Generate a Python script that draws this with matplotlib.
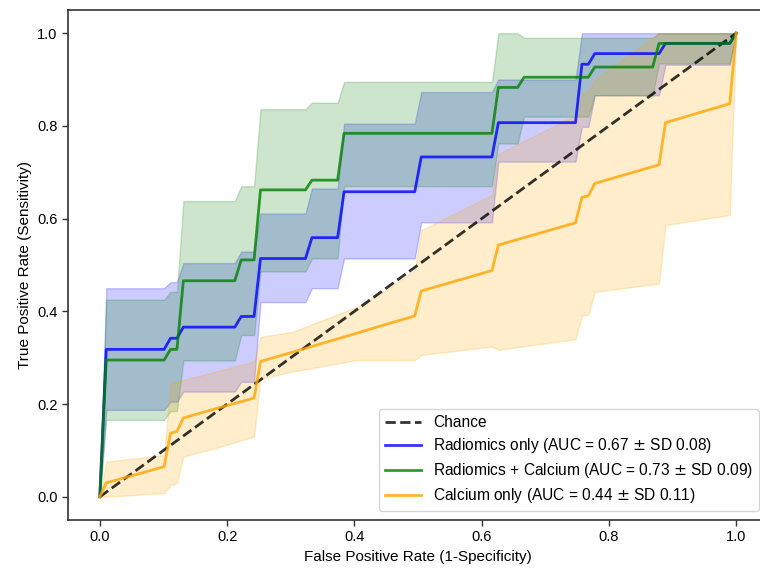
import numpy as np
import matplotlib
matplotlib.use("Agg")
import matplotlib.pyplot as plt

plt.rcParams['font.family'] = ['Liberation Sans', 'DejaVu Sans']

# Shared FPR grid for the step-like ROC curves
fpr_steps = [0.0, 0.0101, 0.1010, 0.1111, 0.1212, 0.1313, 0.2121, 0.2222, 0.2424,
             0.2525, 0.3232, 0.3333, 0.3737, 0.3838, 0.4949, 0.5051, 0.6162, 0.6263,
             0.6566, 0.6667, 0.7475, 0.7576, 0.7677, 0.7778, 0.8687, 0.8788, 0.8889,
             0.9899, 1.0]

# Radiomics only
rad_mean = [0.0, 0.318, 0.318, 0.342, 0.342, 0.366, 0.366, 0.389, 0.389,
            0.514, 0.514, 0.559, 0.559, 0.658, 0.658, 0.733, 0.733, 0.807,
            0.807, 0.807, 0.807, 0.933, 0.933, 0.956, 0.956, 0.956, 0.978,
            0.978, 1.0]
rad_upper = [0.0, 0.45, 0.45, 0.463, 0.463, 0.504, 0.504, 0.529, 0.529,
             0.611, 0.611, 0.665, 0.665, 0.805, 0.805, 0.873, 0.873, 0.90,
             0.90, 0.90, 0.90, 1.0, 1.0, 1.0, 1.0, 1.0, 1.0,
             1.0, 1.0]
rad_lower = [0.0, 0.1875, 0.1875, 0.205, 0.205, 0.227, 0.227, 0.248, 0.248,
             0.42, 0.42, 0.45, 0.45, 0.514, 0.514, 0.592, 0.592, 0.723,
             0.723, 0.723, 0.723, 0.798, 0.798, 0.866, 0.866, 0.866, 0.932,
             0.932, 1.0]

# Radiomics + Calcium
comb_mean = [0.0, 0.295, 0.295, 0.318, 0.318, 0.466, 0.466, 0.511, 0.511,
             0.662, 0.662, 0.683, 0.683, 0.784, 0.784, 0.784, 0.784, 0.883,
             0.883, 0.905, 0.905, 0.905, 0.905, 0.927, 0.927, 0.978, 0.978,
             0.978, 1.0]
comb_upper = [0.0, 0.425, 0.425, 0.442, 0.442, 0.638, 0.638, 0.67, 0.67,
              0.836, 0.836, 0.85, 0.85, 0.895, 0.895, 0.895, 0.895, 1.0,
              1.0, 0.99, 0.99, 0.99, 0.99, 0.99, 0.99, 1.0, 1.0,
              1.0, 1.0]
comb_lower = [0.0, 0.166, 0.166, 0.185, 0.185, 0.294, 0.294, 0.349, 0.349,
              0.486, 0.486, 0.514, 0.514, 0.67, 0.67, 0.67, 0.67, 0.762,
              0.762, 0.82, 0.82, 0.82, 0.82, 0.866, 0.866, 0.935, 0.935,
              0.935, 1.0]

# Calcium only
fpr_calcium = [0.0, 0.0101, 0.1010, 0.1111, 0.1212, 0.1313, 0.1818, 0.2424, 0.2525,
               0.3030, 0.4040, 0.4545, 0.4949, 0.5051, 0.6162, 0.6263, 0.7475,
               0.7576, 0.7677, 0.7778, 0.8788, 0.8889, 0.9899, 1.0]
cal_mean = [0.0, 0.03, 0.065, 0.137, 0.141, 0.17, 0.19, 0.213, 0.292,
            0.312, 0.353, 0.374, 0.39, 0.444, 0.488, 0.543, 0.591,
            0.646, 0.649, 0.676, 0.716, 0.807, 0.848, 1.0]
cal_upper = [0.0, 0.076, 0.09, 0.245, 0.248, 0.252, 0.27, 0.292, 0.345,
             0.356, 0.41, 0.45, 0.489, 0.575, 0.651, 0.74, 0.823,
             0.87, 0.875, 0.90, 1.0, 1.0, 1.0, 1.0]
cal_lower = [0.0, 0.0, 0.008, 0.025, 0.03, 0.087, 0.105, 0.13, 0.255,
             0.27, 0.295, 0.295, 0.295, 0.306, 0.324, 0.317, 0.34,
             0.392, 0.392, 0.442, 0.46, 0.586, 0.608, 1.0]

labels = ["Chance",
          "Radiomics only (AUC = 0.67 $\\pm$ SD 0.08)",
          "Radiomics + Calcium (AUC = 0.73 $\\pm$ SD 0.09)",
          "Calcium only (AUC = 0.44 $\\pm$ SD 0.11)"]

fig = plt.figure(figsize=(7.6, 5.68), dpi=100)
ax = fig.add_axes([68/760, 48/568, 700/760, 510/568])

ax.plot([0, 1], [0, 1], linestyle='--', color='k', lw=2, alpha=0.8, label=labels[0])

ax.fill_between(fpr_steps, rad_lower, rad_upper, color='blue', alpha=0.2, lw=1)
ax.fill_between(fpr_steps, comb_lower, comb_upper, color='green', alpha=0.2, lw=1)
ax.fill_between(fpr_calcium, cal_lower, cal_upper, color='orange', alpha=0.2, lw=1)

ax.plot(fpr_steps, rad_mean, color='blue', lw=2, alpha=0.8, label=labels[1])
ax.plot(fpr_steps, comb_mean, color='green', lw=2, alpha=0.8, label=labels[2])
ax.plot(fpr_calcium, cal_mean, color='orange', lw=2, alpha=0.8, label=labels[3])

ax.set_xlim(-0.05, 1.05)
ax.set_ylim(-0.05, 1.05)
ax.set_xticks([0.0, 0.2, 0.4, 0.6, 0.8, 1.0])
ax.set_yticks([0.0, 0.2, 0.4, 0.6, 0.8, 1.0])
ax.tick_params(labelsize=10.5, length=4, width=1, color='#333333')
for s in ax.spines.values():
    s.set_linewidth(1.2)
    s.set_color('#333333')
ax.set_xlabel("False Positive Rate (1-Specificity)", fontsize=11)
ax.set_ylabel("True Positive Rate (Sensitivity)", fontsize=11)
ax.legend(loc='lower right', fontsize=11.2, labelspacing=0.38, borderaxespad=0.55,
          handlelength=2.3)

fig.savefig("out.png", dpi=100)
